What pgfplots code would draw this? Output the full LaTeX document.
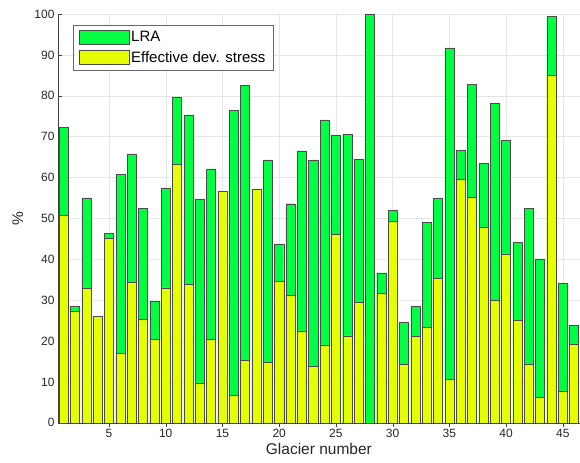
\documentclass[border=0pt]{standalone}
\usepackage{pgfplots}
\pgfplotsset{compat=1.18}
\usepackage{pgfplotstable}
\usepackage{fontspec}
\setmainfont{Liberation Sans}

\definecolor{lragreen}{RGB}{0,255,64}
\definecolor{stressyellow}{RGB}{229,255,0}
\definecolor{edgegray}{RGB}{75,75,75}

% glacier, LRA (%), effective deviatoric stress (%)
\pgfplotstableread{
n  lra   stress
1  72.3  50.8
2  28.5  27.2
3  55.0  33.0
4  26.0  26.0
5  46.4  45.1
6  60.7  17.0
7  65.8  34.3
8  52.5  25.3
9  29.7  20.5
10 57.5  33.0
11 79.7  63.2
12 75.3  33.9
13 54.7   9.8
14 62.1  20.5
15 56.7  56.7
16 76.4   6.7
17 82.6  15.3
18 57.1  57.1
19 64.3  14.8
20 43.8  34.6
21 53.6  31.1
22 66.5  22.5
23 64.3  13.8
24 74.1  19.1
25 70.4  46.1
26 70.5  21.3
27 64.5  29.4
28 100.0  0.0
29 36.7  31.7
30 52.0  49.2
31 24.7  14.3
32 28.6  21.2
33 49.0  23.3
34 55.0  35.3
35 91.7  10.7
36 66.6  59.6
37 82.8  55.2
38 63.4  47.8
39 78.2  29.9
40 69.1  41.3
41 44.1  25.0
42 52.4  14.3
43 40.1   6.3
44 99.5  85.0
45 34.2   7.8
46 23.9  19.2
}\glaciers

\begin{document}
\begin{tikzpicture}
\begin{axis}[
    scale only axis,
    width=522pt, height=409pt,
    xmin=0.5, xmax=46.5,
    ymin=0, ymax=100,
    xtick={5,10,...,45},
    ytick={0,10,...,100},
    axis x line*=bottom,
    axis y line*=left,
    axis line style={black!75},
    tick style={black!75},
    tick align=inside,
    major tick length=4pt,
    grid=major,
    grid style={black!10},
    ticklabel style={font=\fontsize{12}{14}\selectfont, text=black!85},
    xticklabel style={yshift=1pt},
    /pgf/number format/assume math mode=true,
    xlabel={Glacier number},
    ylabel={\%},
    label style={font=\fontsize{15.5}{18}\selectfont, text=black!85},
    xlabel style={at={(axis description cs:0.5,-0.064)}, anchor=center},
    ylabel style={at={(axis description cs:-0.077,0.5)}, anchor=center},
    ybar, bar width=0.8, bar shift=0pt,
    legend style={at={(axis description cs:0.028,0.972)}, anchor=north west,
        draw=black!60, fill=white, font=\fontsize{15}{17}\selectfont,
        inner xsep=6pt, inner ysep=4pt, row sep=4pt},
    legend cell align=left,
]
\addplot[fill=lragreen, draw=edgegray,
    legend image code/.code={\draw[fill=lragreen, draw=edgegray] (0pt,-7pt) rectangle (50pt,7pt);}]
    table[x=n, y=lra]{\glaciers};
\addlegendentry{LRA}
\addplot[fill=stressyellow, draw=edgegray,
    legend image code/.code={\draw[fill=stressyellow, draw=edgegray] (0pt,-7pt) rectangle (50pt,7pt);}]
    table[x=n, y=stress]{\glaciers};
\addlegendentry{Effective dev. stress}
\end{axis}
\path (current axis.south west) ++(-58pt,-40pt) rectangle ++(580pt,463pt);
\end{tikzpicture}
\end{document}
